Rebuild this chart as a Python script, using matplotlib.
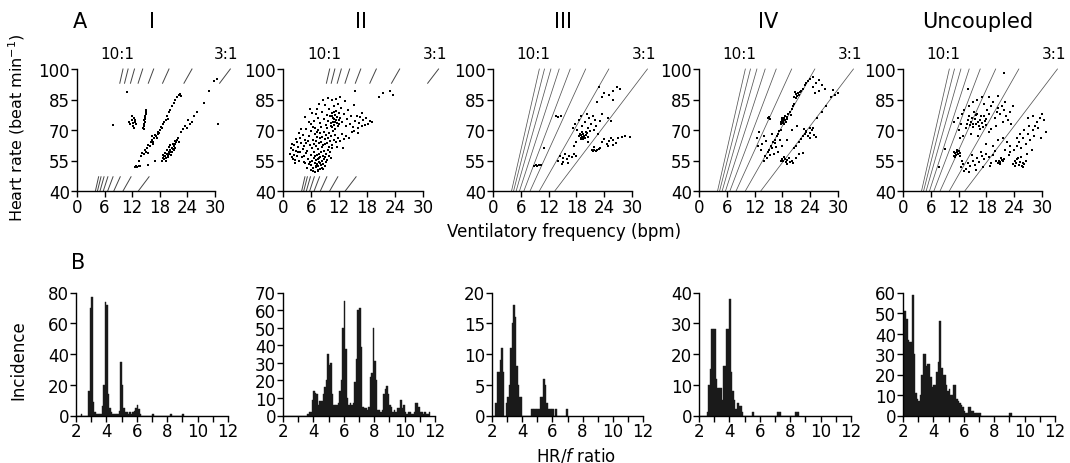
import numpy as np
import matplotlib.pyplot as plt
from matplotlib.ticker import MultipleLocator

plt.rcParams['font.family'] = ['DejaVu Sans']
plt.rcParams['mathtext.fontset'] = 'dejavusans'

#%% Data
panel_names = ['I', 'II', 'III', 'IV', 'Uncoupled']
ratios = [3, 4, 5, 6, 7, 8, 9, 10]
hr_ticks = [40, 55, 70, 85, 100]
f_ticks = [0, 6, 12, 18, 24, 30]

# (ventilatory frequency, heart rate)
pts_I = [
    (11.6, 73), (11.9, 75), (12.1, 73.5), (12.3, 76), (12.5, 74), (12.2, 72), (12.7, 75), (12.4, 71),
    (11.4, 74), (12.9, 73), (12.0, 77),
    (14.4, 71), (14.5, 73), (14.6, 75), (14.7, 74), (14.8, 77), (14.9, 78), (15.0, 79), (15.1, 80),
    (14.6, 72), (14.8, 76), (15.0, 78.5), (14.5, 70.5), (14.7, 75.5), (14.9, 79.5),
    (13.5, 55), (14, 57), (14.2, 58.5), (14.6, 58), (14.8, 60), (15, 59), (15.3, 61), (15.5, 62.5),
    (15.8, 62), (16, 64), (16.3, 65), (16.5, 64), (16.8, 66), (17, 67.5), (17.2, 67), (17.5, 69),
    (17.7, 68), (18, 70), (18.2, 71.5), (18.5, 71), (18.8, 73), (19, 74), (19.3, 75), (19.6, 77),
    (20, 79), (20.3, 80), (20.6, 82), (21, 83.5), (21.4, 85), (21.8, 86), (22.1, 87), (22.4, 87.5),
    (22.6, 86.5), (16.2, 67), (17.4, 66), (15.5, 58.5), (19.8, 75.5), (16.6, 63), (17.9, 68.5),
    (18.5, 55), (18.8, 56), (19, 55.5), (19.2, 57), (19.4, 56), (19.5, 58), (19.7, 57.5), (19.9, 59),
    (20, 58), (20.2, 60), (20.4, 59), (20.6, 61), (20.8, 60.5), (21, 62), (21.2, 61), (21.4, 63),
    (21.6, 64), (19.1, 58.5), (19.6, 60), (20.1, 61.5), (20.5, 57.5), (19.8, 56.5), (20.9, 63),
    (21.8, 65), (22, 66), (18.7, 57.5), (20.3, 62.5), (21.3, 64.5), (22.2, 64), (19.3, 54.8),
    (20.7, 59.2), (19.0, 57.2), (21.1, 60.2),
    (23.5, 72), (24, 71), (24.5, 73), (25, 74), (24.2, 75), (25.5, 77), (26, 79), (27.5, 83.5),
    (28.6, 89), (29.7, 94), (30.4, 95), (22.5, 69), (23, 70.5),
    (12.5, 52), (12.8, 52.3), (13.1, 52), (13.4, 52.2), (13.7, 52.5),
    (7.8, 72.4), (10.8, 88.5), (30.7, 73), (17, 55), (15.5, 53),
]

pts_II = [
    # dense lower part
    (5.2, 51.5), (5.6, 53.2), (5.9, 50.4), (6.1, 52.7), (6.3, 54.9), (6.5, 51.1), (6.6, 56.3), (6.8, 53.6),
    (6.9, 49.2), (7.0, 55.4), (7.1, 51.8), (7.2, 57.5), (7.3, 53.1), (7.4, 50.3), (7.5, 55.9), (7.6, 52.4),
    (7.7, 58.2), (7.8, 54.3), (7.9, 50.9), (8.0, 56.6), (8.1, 52.8), (8.2, 59.1), (8.3, 54.7), (8.4, 51.3),
    (8.5, 57.4), (8.6, 53.5), (8.7, 55.8), (8.8, 59.8), (8.9, 52.1), (9.0, 56.9), (9.2, 54.2), (9.3, 58.4),
    (9.5, 55.3), (9.6, 60.2), (9.8, 57.1), (10.0, 59.3), (10.2, 56.0), (10.4, 61.2), (6.0, 57.8), (5.4, 55.6),
    (4.8, 53.9), (4.5, 57.2), (6.7, 59.4), (7.4, 60.8), (8.3, 61.7), (9.1, 62.9), (5.1, 59.9), (6.2, 61.3),
    (6.4, 50.0), (7.0, 52.5), (7.6, 49.6), (8.0, 53.9), (8.6, 50.7), (6.9, 57.0), (7.8, 56.1), (5.8, 54.1),
    # left part
    (1.6, 58.3), (1.9, 56.7), (2.1, 60.4), (2.3, 57.9), (2.4, 62.8), (2.6, 55.2), (2.8, 59.6), (3.0, 64.1),
    (3.1, 57.3), (3.3, 61.5), (3.4, 54.6), (3.6, 66.2), (3.7, 59.1), (3.9, 63.4), (4.0, 56.8), (4.2, 60.9),
    (4.3, 67.4), (4.4, 54.2), (4.6, 62.3), (4.7, 65.0), (4.9, 58.6), (5.0, 63.7), (2.0, 63.0), (2.7, 65.8),
    (3.5, 68.5), (1.8, 61.2), (2.5, 53.9), (3.8, 70.3), (2.2, 55.8), (3.2, 59.0),
    # middle part
    (5.3, 64.6), (5.6, 67.1), (5.8, 62.4), (6.1, 69.5), (6.4, 65.2), (6.6, 63.1), (6.8, 67.8), (6.9, 71.2),
    (7.0, 64.5), (7.1, 62.2), (7.3, 66.7), (7.5, 69.9), (7.7, 63.8), (7.9, 65.9), (8.0, 68.3), (8.1, 71.6),
    (8.2, 64.2), (8.4, 66.4), (8.6, 62.7), (8.8, 69.1), (9.0, 65.6), (9.2, 67.3), (9.4, 70.8), (9.5, 63.5),
    (9.6, 66.0), (9.8, 68.7), (10.0, 64.8), (10.2, 71.9), (10.3, 66.9), (10.5, 62.6), (10.7, 69.6),
    (10.9, 65.3), (11.1, 67.7), (11.4, 63.9), (11.8, 66.3), (12.2, 64.4), (12.6, 68.2), (13.1, 65.4),
    (13.6, 67.0), (14.2, 66.1), (11.6, 61.8), (12.9, 61.2), (5.0, 70.4), (6.0, 73.1), (7.2, 68.9), (9.9, 61.4),
    # upper part
    (4.8, 76.5), (5.5, 73.8), (6.2, 78.2), (6.7, 74.6), (7.2, 80.5), (7.6, 76.1), (8.0, 73.3), (8.3, 78.9),
    (8.7, 75.2), (9.0, 82.3), (9.2, 72.7), (9.4, 77.6), (9.6, 74.2), (9.8, 80.1), (10.0, 76.8), (10.2, 73.5),
    (10.4, 84.6), (10.5, 78.3), (10.6, 71.4), (10.7, 75.9), (10.8, 74.0), (10.9, 81.7), (11.0, 72.4),
    (11.1, 77.2), (11.2, 70.6), (11.3, 75.1), (11.4, 79.4), (11.5, 73.2), (11.6, 76.4), (11.7, 71.8),
    (11.8, 83.0), (11.9, 74.8), (12.0, 78.6), (12.1, 72.9), (12.3, 76.0), (12.5, 80.9), (12.7, 73.7),
    (13.0, 77.8), (13.2, 84.2), (13.4, 72.1), (13.7, 75.5), (14.0, 79.8), (14.3, 73.0), (14.6, 76.9),
    (15.0, 71.3), (15.3, 82.1), (8.6, 84.9), (9.7, 85.6), (11.3, 85.3), (12.2, 86.0), (7.0, 77.9),
    (7.8, 82.6), (6.4, 71.7), (5.8, 80.3), (10.6, 77.0), (11.0, 75.3), (10.9, 79.0), (11.2, 73.8),
    # right part
    (15.5, 74.3), (15.8, 77.1), (16.1, 70.8), (16.3, 73.6), (16.6, 76.2), (16.9, 71.9), (17.2, 74.9),
    (17.5, 72.6), (17.8, 75.8), (18.2, 73.1), (18.6, 74.4), (19.0, 73.9), (16.0, 68.4), (15.2, 69.7),
    (14.8, 68.9), (17.0, 78.3),
    # outliers
    (20.5, 86), (21.5, 88), (23, 89), (23.5, 87), (15.5, 89),
]

pts_III = [
    (18.6, 67), (18.9, 66), (19.1, 67.5), (19.3, 66.5), (19.5, 68), (19.7, 67), (19.9, 66), (20.1, 67.5),
    (20.3, 68.5), (19.4, 65.8), (20.5, 66.8), (18.8, 68.2), (19.0, 65.5), (20.0, 69), (19.6, 66.2),
    (19.2, 68.8),
    (17.2, 71), (17.8, 73), (18.2, 70), (18.5, 75), (19.2, 72), (19.8, 74), (20.5, 71), (20.8, 76),
    (21.2, 73), (21.5, 77), (22, 75), (22.3, 72), (21.8, 70), (20.2, 78), (19, 77), (23, 74.5),
    (22.6, 68), (21, 69.5), (18, 64), (17.5, 62), (20.5, 64), (23.5, 78), (24.8, 76), (25.5, 74.5),
    (21.3, 60.2), (21.6, 59.8), (21.9, 60.4), (22.2, 59.7), (22.5, 60.1), (22.8, 60.6), (23.1, 61),
    (21.8, 61.5),
    (23.5, 64), (24, 65.5), (24.5, 63), (25, 64.5), (25.5, 66), (26, 65), (26.5, 63.5), (27, 66),
    (27.8, 66.5), (28.5, 67), (29.5, 66.5), (24.8, 62), (25.8, 62.5),
    (22.8, 91), (24, 88), (25, 87), (26, 89), (26.8, 91), (27.5, 90), (23.5, 86), (22.5, 84), (25.8, 85),
    (14, 55), (14.5, 57), (15, 56), (15.5, 58), (16, 55.5), (16.5, 57), (17, 56.5), (17.5, 58),
    (15.2, 54.5), (16.2, 53.8), (14.8, 53.5), (18, 57),
    (13.6, 77), (14.1, 76.5), (14.6, 76.8),
    (8.8, 52.5), (9.2, 52.8), (9.6, 52.4), (10.0, 52.6), (10.4, 53),
    (11.1, 61),
]

pts_IV = [
    (17.6, 74), (17.9, 75), (18.1, 73.5), (18.3, 76), (18.5, 75), (18.7, 74), (18.9, 76.5), (18.2, 74.5),
    (18.0, 76), (18.4, 73), (18.6, 77), (17.8, 73), (19.1, 75.5), (18.3, 75.2),
    (20.6, 86), (20.9, 87.5), (21.1, 86.5), (21.3, 88), (21.5, 87), (21.0, 85.5), (21.7, 88.5), (20.8, 88.5),
    (14, 55), (14.3, 57), (14.6, 56), (14.9, 59), (15.2, 60), (15.5, 62), (15.7, 61), (16, 64),
    (16.3, 65), (16.5, 63.5), (16.8, 67), (17, 68), (17.3, 69.5), (17.6, 70), (19.3, 78), (19.6, 79),
    (20, 80.5), (20.2, 82), (22, 89), (22.4, 90), (22.8, 92), (23.2, 93), (23.6, 94), (24, 95),
    (24.5, 96), (19.8, 77.5), (20.5, 83), (16.1, 58), (15.3, 57.5), (17.4, 65), (16.7, 61.5),
    (14.8, 75.8), (15.0, 76.3), (15.2, 76), (15.4, 75.5),
    (17.6, 55), (17.9, 55.5), (18.2, 54.8), (18.5, 55.6), (18.8, 54.5), (19.1, 55.2), (19.4, 56),
    (19.7, 54.2), (20, 55), (20.3, 53.8), (18.3, 56.5), (19, 53.5),
    (20.5, 61), (21, 62), (21.5, 64), (22, 65.5), (22.5, 67), (23, 69), (24, 71), (25.5, 76),
    (26.5, 79), (27.5, 82), (28.5, 86), (29.3, 87), (30, 88), (29, 89.5),
    (22.8, 68), (23.2, 69.5), (23.6, 67), (24, 68.5), (24.4, 70), (24.8, 67.5), (25.2, 66.5),
    (23.9, 66), (24.6, 71), (22.6, 70.5),
    (24.5, 91), (25.2, 93), (25.8, 89), (26.5, 92), (27.2, 90), (26, 94.5), (25, 88),
    (12.6, 66), (13, 69), (13.5, 63), (14, 67), (14.5, 64.5), (15.8, 68), (13.3, 60), (12.8, 62),
    (17, 59), (18, 62), (19, 65), (20, 70), (21.2, 72), (21.5, 58), (22.5, 58.5), (21, 56),
]

pts_unc = [
    (14, 75), (14.3, 77), (14.6, 74), (14.9, 76), (15.2, 73), (15.5, 75.5), (15.8, 77.5), (16.1, 74),
    (16.4, 72), (16.7, 75), (17, 73.5), (17.3, 71.5), (17.6, 74.5), (17.9, 72.5), (15, 71.5), (16, 78),
    (14.5, 72.5), (16.9, 76.8), (15.4, 79), (17.4, 77), (13.8, 73), (15.7, 72.8), (16.6, 70.5), (18, 75.5),
    (11, 74), (11.8, 76), (12.5, 73), (12.8, 78), (13.2, 80), (13.5, 71), (12, 70), (14.2, 82),
    (15, 84), (16, 85), (17, 86), (17.5, 83), (18.2, 80), (18.6, 78), (19, 82), (19.4, 84),
    (19.8, 76), (20.2, 79), (20.6, 81), (21, 78), (21.3, 82), (21.8, 80), (22.2, 77), (22.6, 75),
    (23, 79), (23.4, 73), (21.5, 74), (20, 72), (19, 70.5), (18.5, 69), (13, 67), (12.4, 66),
    (14.6, 68), (16.2, 67), (18.6, 86), (20.5, 86.5), (22, 84), (23.8, 82),
    (10.9, 57), (11.2, 58.5), (11.4, 57.5), (11.6, 59), (11.8, 58), (12, 59.5), (12.2, 57),
    (11.3, 56.5), (11.7, 60), (12.4, 58.5), (11, 59.3),
    (12.5, 52), (13, 53.5), (13.5, 51), (14, 54), (14.5, 52.5), (15, 55), (15.5, 53), (16, 56),
    (16.5, 54.5), (17, 57), (17.5, 55.5), (18, 58), (18.5, 56.5), (19, 54), (19.5, 57.5), (20, 55),
    (13.2, 50), (14.2, 49.5), (15.8, 50.5), (17.2, 52), (18.8, 52.5), (12.8, 55), (16.8, 59),
    (19.8, 59.5), (14.8, 57.5),
    (20.4, 54), (20.7, 55), (21, 54.2), (21.3, 55.3), (21.6, 54.6), (20.9, 53.5), (21.9, 55.8), (21.2, 56.2),
    (23.8, 53.5), (24.1, 55), (24.4, 54), (24.7, 55.5), (25, 53), (25.3, 54.5), (25.6, 52.5), (25.9, 54),
    (26.2, 53.5), (26.5, 55), (24.9, 56), (25.5, 56.5), (24.2, 52.5), (26, 52),
    (24, 60), (24.5, 62), (25, 64), (25.5, 61), (26, 66), (26.5, 63), (27, 68), (27.5, 65),
    (28, 70), (28.5, 72), (29, 74), (29.5, 76), (30, 78), (30.5, 75), (29.2, 71), (28.2, 67),
    (27.2, 72), (26.2, 70), (25.2, 68), (24.6, 66), (23, 62), (22.5, 64), (30.8, 69), (29.8, 66),
    (27.8, 60), (26.8, 58),
    (21.5, 66), (22, 60), (22.8, 57.5), (23.2, 59), (19.5, 62), (20.5, 65), (18, 63), (27, 76), (28, 77),
    (21.7, 98), (14.1, 90), (9, 60.5), (7.8, 52),
]

# panel B: incidence per 0.1 HR/f bin, first bin starts at 2.0
hist_I = [0, 0, 0, 1, 0, 0, 0, 0, 16, 70,
          77, 9, 2, 1, 1, 1, 1, 6, 20, 74,
          72, 14, 5, 2, 1, 1, 1, 1, 3, 35,
          20, 5, 2, 2, 1, 2, 1, 2, 3, 5,
          7, 4, 1, 0, 0, 0, 0, 0, 0, 0,
          1, 0, 0, 0, 0, 0, 0, 0, 0, 0,
          0, 0, 1, 0, 0, 0, 0, 0, 0, 0,
          1]
hist_II = [0, 0, 0, 0, 0, 0, 0, 0, 0, 0,
           0, 0, 0, 0, 0, 0, 1, 2, 2, 9,
           14, 13, 12, 6, 8, 8, 12, 16, 20, 35,
           29, 30, 12, 6, 6, 6, 7, 14, 20, 50,
           65, 38, 10, 6, 7, 6, 7, 19, 32, 60,
           61, 39, 5, 4, 4, 3, 5, 22, 24, 50,
           31, 20, 3, 3, 2, 3, 12, 15, 17, 12,
           6, 5, 2, 3, 2, 4, 4, 9, 4, 6,
           2, 1, 2, 2, 1, 1, 2, 7, 7, 5,
           2, 2, 1, 2, 1, 1, 2]
hist_III = [0, 0, 2, 7, 7, 9, 11, 7, 0, 2,
            3, 5, 11, 15, 18, 16, 8, 5, 3, 3,
            0, 0, 0, 0, 0, 0, 1, 1, 1, 1,
            1, 1, 3, 3, 6, 5, 2, 1, 1, 1,
            1, 0, 1, 0, 0, 0, 0, 0, 0, 1]
hist_IV = [0, 0, 0, 0, 0, 1, 10, 15, 28, 28,
           28, 12, 9, 9, 9, 5, 16, 16, 28, 28,
           38, 14, 8, 5, 2, 4, 3, 3, 1, 0,
           0, 0, 0, 0, 0, 1, 0, 0, 0, 0,
           0, 0, 0, 0, 0, 0, 0, 0, 0, 0,
           0, 1, 1, 1, 0, 0, 0, 0, 0, 0,
           0, 0, 0, 1, 1, 1]
hist_unc = [51, 51, 47, 37, 36, 36, 59, 30, 11, 8,
            7, 10, 20, 30, 30, 24, 25, 25, 19, 14,
            15, 15, 21, 26, 46, 23, 20, 20, 15, 12,
            13, 10, 10, 15, 15, 8, 7, 6, 5, 4,
            2, 1, 1, 4, 4, 2, 2, 1, 1, 1,
            1, 0, 0, 0, 0, 0, 0, 0, 0, 0,
            0, 0, 0, 0, 0, 0, 0, 0, 0, 0,
            1, 1]
hist_ymax = [80, 70, 20, 40, 60]
hist_ystep = [20, 10, 5, 10, 10]

#%% Layout (pixels in the 1070 x 464 figure)
W, H = 1070, 464
top_left = [77, 283, 493, 699, 903]
top_width = [138, 140, 139, 139, 139]
bot_left = [76, 283, 492, 699, 903]
bot_width = [152, 152, 151, 152, 152]
title_x = [152, 361, 563, 768, 978]


def frac(left, top, width, height):
    return [left / W, 1 - (top + height) / H, width / W, height / H]


def style_axis(ax):
    for s in ['top', 'right']:
        ax.spines[s].set_visible(False)
    for s in ['left', 'bottom']:
        ax.spines[s].set_linewidth(1.0)
    ax.tick_params(which='both', direction='out', length=4, width=1, labelsize=12, pad=1)


fig = plt.figure(figsize=(W / 100, H / 100), dpi=100)

scatter_sets = [pts_I, pts_II, pts_III, pts_IV, pts_unc]
marker_size = [3.2, 3.8, 2.8, 2.8, 2.8]

for k in range(5):
    ax = fig.add_axes(frac(top_left[k], 70, top_width[k], 122))
    pts = np.array(scatter_sets[k])
    ax.scatter(pts[:, 0], pts[:, 1], s=marker_size[k], marker='s', c='k', linewidths=0,
               clip_on=False, zorder=3)
    for n in ratios:
        if k < 2:
            for lo, hi in [(40, 47), (93, 100)]:
                ax.plot([lo / n, hi / n], [lo, hi], color='#444444', lw=0.7, clip_on=False)
        else:
            ax.plot([40 / n, 100 / n], [40, 100], color='#555555', lw=0.55, clip_on=False)
    ax.set_xlim(0, 30)
    ax.set_ylim(40, 100)
    ax.set_xticks(f_ticks)
    ax.set_yticks(hr_ticks)
    style_axis(ax)
    ax.text(8.8, 107.5, '10:1', ha='center', va='center', fontsize=11)
    ax.text(32.5, 107.5, '3:1', ha='center', va='center', fontsize=11)
    fig.text(title_x[k] / W, 1 - 22 / H, panel_names[k], ha='center', va='center', fontsize=15)

hists = [hist_I, hist_II, hist_III, hist_IV, hist_unc]
for k in range(5):
    ax = fig.add_axes(frac(bot_left[k], 293.5, bot_width[k], 123))
    counts = hists[k]
    edges = 2.0 + 0.1 * np.arange(len(counts))
    ax.bar(edges, counts, width=0.1, align='edge', color='#1a1a1a', edgecolor='#1a1a1a', linewidth=0.3)
    ax.set_xlim(2, 12)
    ax.set_ylim(0, hist_ymax[k])
    ax.xaxis.set_major_locator(MultipleLocator(2))
    ax.xaxis.set_minor_locator(MultipleLocator(1))
    ax.yaxis.set_major_locator(MultipleLocator(hist_ystep[k]))
    style_axis(ax)

fig.text(80 / W, 1 - 22 / H, 'A', ha='center', va='center', fontsize=15)
fig.text(78 / W, 1 - 263 / H, 'B', ha='center', va='center', fontsize=15)
fig.text(17 / W, 1 - 128 / H, 'Heart rate (beat min$^{-1}$)', rotation=90, ha='center', va='center',
         fontsize=11.5)
fig.text(564 / W, 1 - 232 / H, 'Ventilatory frequency (bpm)', ha='center', va='center', fontsize=12)
fig.text(18 / W, 1 - 360 / H, 'Incidence', rotation=90, ha='center', va='center', fontsize=12)
fig.text(576 / W, 1 - 456 / H, 'HR/$f$ ratio', ha='center', va='center', fontsize=12)

fig.savefig('out.png', dpi=100)
